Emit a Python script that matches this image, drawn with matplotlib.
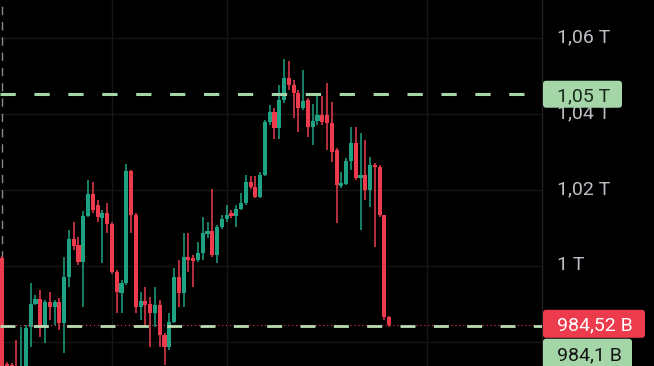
import matplotlib
matplotlib.use("Agg")
import matplotlib.pyplot as plt
from matplotlib.patches import FancyBboxPatch
from matplotlib.transforms import IdentityTransform, ScaledTranslation
import numpy as np

# ---- data (prices in billions) ----
opens = [1002.1, 974.2, 974.0, 973.7, 971.3, 972.1, 984.0, 990.0, 991.3, 984.0,
         990.5, 989.2, 990.5, 985.0, 997.1, 1007.1, 1005.5, 1001.1, 1013.2, 1019.0,
         1016.1, 1012.6, 1014.0, 1011.1, 998.4, 992.9, 995.5, 1025.0, 1013.4, 989.2,
         990.8, 990.0, 987.6, 989.7, 981.8, 978.7, 985.3, 997.1, 992.9, 1002.4,
         1002.1, 1001.6, 1003.4, 1008.4, 1009.2, 1002.9, 1010.3, 1012.4, 1014.0, 1013.2,
         1015.0, 1016.6, 1022.1, 1020.8, 1018.2, 1024.0, 1037.9, 1040.5, 1036.3, 1043.7,
         1049.5, 1047.6, 1045.5, 1041.6, 1043.7, 1036.6, 1038.2, 1039.7, 1039.7, 1037.6,
         1030.5, 1021.1, 1021.6, 1027.6, 1032.4, 1023.2, 1024.0, 1020.0, 1026.6, 1026.1,
         1013.4, 986.6]
closes = [972.1, 973.2, 972.9, 972.6, 973.2, 983.7, 990.0, 991.3, 984.0, 990.5,
          989.2, 990.5, 985.0, 997.1, 1007.1, 1005.3, 1001.1, 1013.2, 1019.0, 1014.7,
          1012.9, 1014.0, 1011.1, 998.4, 993.2, 995.5, 1025.0, 1013.4, 989.2, 990.8,
          989.7, 987.6, 989.7, 981.8, 978.7, 985.3, 997.1, 992.9, 1002.4, 1001.6,
          1001.3, 1003.4, 1008.7, 1009.2, 1002.9, 1010.3, 1012.4, 1013.4, 1013.2, 1015.0,
          1016.6, 1022.1, 1020.8, 1018.2, 1024.0, 1037.9, 1040.5, 1036.3, 1043.7, 1049.5,
          1047.6, 1045.5, 1041.6, 1043.4, 1036.6, 1038.2, 1039.7, 1037.9, 1037.6, 1030.0,
          1021.3, 1021.8, 1027.6, 1032.4, 1023.2, 1024.0, 1020.0, 1026.6, 1026.1, 1013.4,
          986.6, 984.52]
highs = [1002.6, 974.7, 974.5, 980.5, 984.0, 984.5, 995.5, 992.4, 993.7, 991.1,
         993.2, 991.1, 991.6, 1002.4, 1009.5, 1011.6, 1007.6, 1014.5, 1022.6, 1022.1,
         1017.4, 1014.7, 1016.6, 1011.6, 999.0, 996.3, 1026.8, 1025.3, 1014.0, 993.2,
         994.5, 991.8, 994.5, 991.1, 982.4, 987.6, 999.5, 1001.6, 1008.7, 1008.7,
         1002.9, 1006.3, 1012.9, 1011.6, 1020.3, 1010.8, 1013.4, 1016.1, 1014.7, 1016.1,
         1019.2, 1024.0, 1023.7, 1023.7, 1024.7, 1038.4, 1042.4, 1041.6, 1047.6, 1054.5,
         1054.0, 1048.9, 1046.3, 1051.6, 1044.2, 1042.6, 1044.7, 1044.7, 1048.2, 1043.2,
         1031.1, 1024.7, 1028.4, 1036.6, 1036.6, 1035.0, 1033.2, 1028.7, 1027.1, 1026.6,
         1013.4, 986.8]
lows = [971.3, 972.4, 972.1, 971.8, 970.5, 971.3, 978.7, 989.7, 981.3, 979.7,
        985.8, 984.5, 983.2, 977.1, 994.5, 1004.2, 1000.3, 989.2, 1012.9, 1014.0,
        1011.6, 1000.8, 1008.7, 997.9, 987.6, 987.6, 995.0, 1008.7, 987.6, 985.8,
        984.5, 978.7, 984.0, 978.7, 974.0, 977.9, 985.0, 989.2, 989.2, 998.4,
        994.5, 1001.1, 1001.6, 1007.4, 1002.4, 1000.8, 1009.7, 1011.6, 1012.6, 1010.3,
        1014.7, 1016.1, 1020.3, 1017.9, 1017.9, 1023.7, 1037.1, 1033.4, 1033.4, 1042.9,
        1046.3, 1039.0, 1035.3, 1041.1, 1034.0, 1031.8, 1037.1, 1037.1, 1030.5, 1027.4,
        1011.3, 1020.5, 1021.3, 1025.3, 1022.6, 1009.5, 1017.4, 1015.5, 1005.0, 1012.9,
        985.8, 983.9]

price_ticks = [980, 1000, 1020, 1040, 1060]
price_tick_labels = ["", "1 T", "1,02 T", "1,04 T", "1,06 T"]
time_grid = [23.0, 47.1, 88.9]

alert_level, alert_label = 1045.2, "1,05 T"
last_price, last_label = 984.52, "984,52 B"
support_level, support_label = 984.1, "984,1 B"

# ---- style ----
UP = "#1fa283"
DOWN = "#ec3b4c"
PALE = "#a5d6a7"
GRID = "#161616"

plt.rcParams["font.family"] = ["Roboto", "DejaVu Sans"]

W, H, DPI = 654, 366, 100
fig = plt.figure(figsize=(W / DPI, H / DPI), dpi=DPI, facecolor="black")
ax = fig.add_axes([0, 0, 542 / W, 1], facecolor="black")

x = np.arange(len(opens))
o = np.array(opens); c = np.array(closes)
hi = np.array(highs); lo = np.array(lows)
up = c >= o
colors = np.where(up, UP, DOWN)
bottom = np.minimum(o, c)
height = np.maximum(np.abs(c - o), 0.3)

ax.vlines(x, lo, hi, colors=colors, linewidth=1.1, zorder=3)
ax.bar(x, height, bottom=bottom, width=0.86, color=colors, linewidth=0, zorder=4)

ax.set_xlim(-0.42, 112.97)
ax.set_ylim(973.68, 1070.0)

# grid
ax.set_axisbelow(True)
ax.set_xticks(time_grid)
ax.set_xticklabels([])
ax.tick_params(axis="x", length=0)
ax.grid(True, color=GRID, linewidth=1.0)

# right price scale
ax.yaxis.tick_right()
ax.set_yticks(price_ticks)
ax.set_yticklabels(price_tick_labels)
ax.tick_params(axis="y", length=0, pad=11, labelsize=14, labelcolor="#bcbfc5")
shift = ScaledTranslation(0, 2.5 / DPI, fig.dpi_scale_trans)
for lab in ax.get_yticklabels():
    lab.set_transform(lab.get_transform() + shift)
for s in ["left", "top", "bottom"]:
    ax.spines[s].set_visible(False)
ax.spines["right"].set_color("#222222")
ax.spines["right"].set_linewidth(1.0)

# vertical dashed session line at start
ax.axvline(0, color="#8a8a8a", linewidth=1.0, linestyle=(0, (6, 5)), zorder=2)

# horizontal levels
ax.axhline(alert_level, color=PALE, linewidth=2.2, linestyle=(0, (5, 6.1)), zorder=5)
ax.axhline(last_price, color=DOWN, linewidth=0.8, linestyle=(0, (1, 2.5)), zorder=5)
ax.axhline(support_level, color="#b9dcb4", linewidth=2.0, linestyle=(0, (5.4, 6.6)), zorder=5)

# price labels on the scale
fig.canvas.draw()

def price_box(level, text, face, tcolor, x0, x1, h, yoff=0.0):
    yc = ax.transData.transform((0, level))[1] + yoff
    box = FancyBboxPatch((x0, yc - h / 2), x1 - x0, h,
                         boxstyle="round,pad=0,rounding_size=3",
                         transform=IdentityTransform(), facecolor=face,
                         edgecolor="none", zorder=10, clip_on=False)
    fig.patches.append(box)
    box.set_figure(fig)
    fig.text(557 / W, yc / H, text, color=tcolor, fontsize=14,
             ha="left", va="center_baseline", zorder=11)

price_box(alert_level, alert_label, PALE, "#1b2a1c", 543, 622, 27)
price_box(last_price, last_label, DOWN, "white", 543, 645, 28, yoff=1)
price_box(last_price - 7.35, support_label, PALE, "#141414", 543, 632, 30, yoff=-1)

fig.savefig("out.png", dpi=DPI, facecolor="black")
